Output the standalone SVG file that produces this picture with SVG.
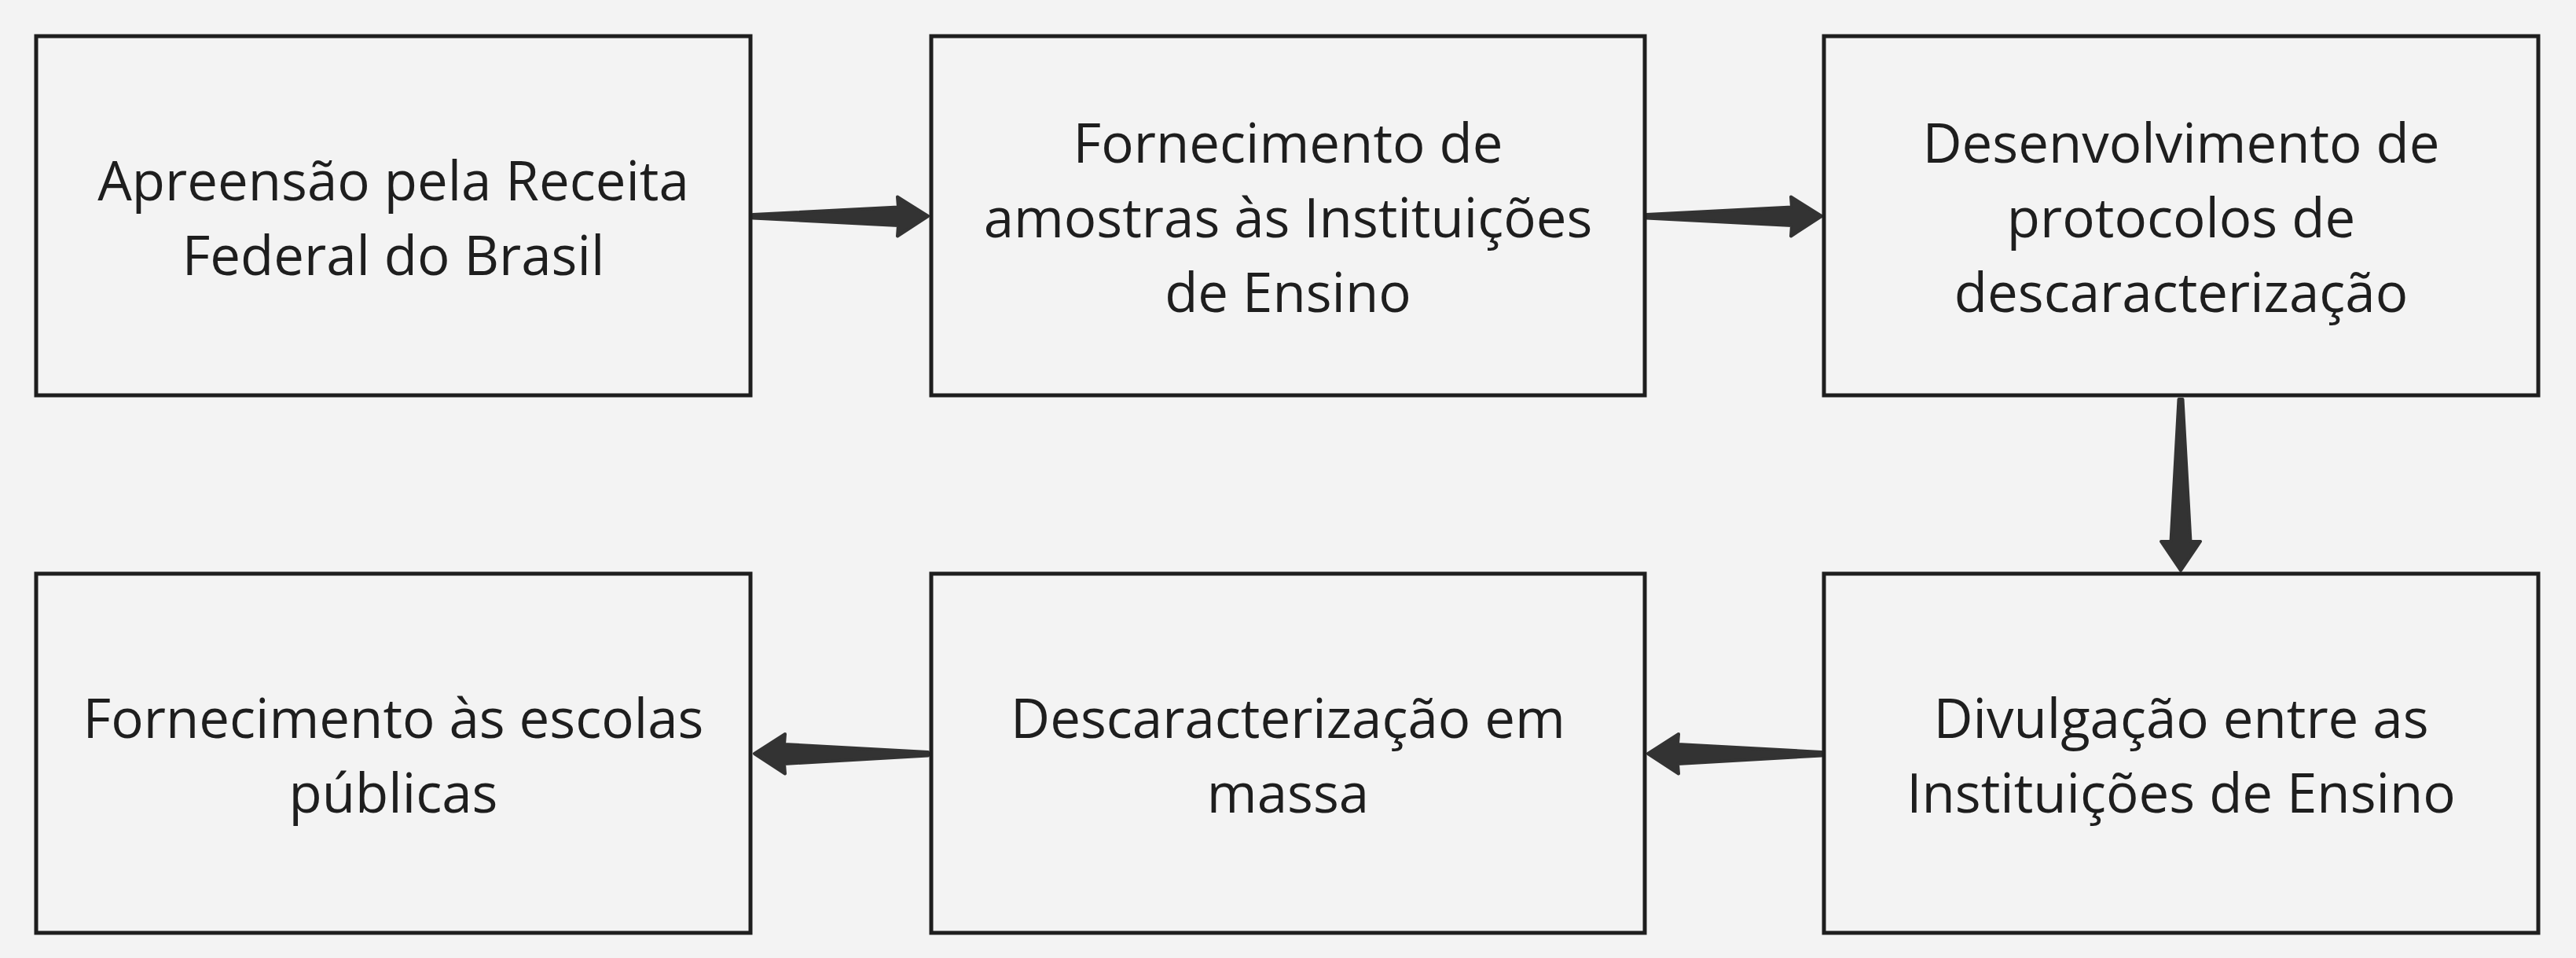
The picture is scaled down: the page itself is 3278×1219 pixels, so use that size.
<svg xmlns="http://www.w3.org/2000/svg" width="3278" height="1219" viewBox="0 0 3278 1219">
<style>
.box{fill:#f3f3f3;stroke:#1e1e1e;stroke-width:5}
.lbl{font-family:"Open Sans","Noto Sans",sans-serif;font-size:69px;fill:#1e1e1e;text-anchor:middle}
.arr{fill:#333333;stroke:#333333;stroke-width:4;stroke-linejoin:round}
</style>
<rect x="0" y="0" width="3278" height="1219" fill="#f3f3f3"/>
<g id="connectors">
<path class="arr" d="M958,273 L1143,263.5 L1142,250.5 L1181,275 L1142,300.5 L1143,287 L958,277.5 Z"/>
<path class="arr" d="M2095,273 L2280,263.5 L2279,250.5 L2318,275 L2279,300.5 L2280,287 L2095,277.5 Z"/>
<path class="arr" d="M2772.5,508 L2762.5,689 L2750,689 L2775,726 L2800,689 L2787.5,689 L2777.5,508 Z"/>
<path class="arr" d="M2318,957 L2135,947 L2136,934 L2097,959 L2136,984.5 L2135,972 L2318,961.5 Z"/>
<path class="arr" d="M1181,957 L998,947 L999,934 L960,959 L999,984.5 L998,972 L1181,961.5 Z"/>
</g>
<g id="node1">
<rect class="box" x="46" y="46" width="909" height="457"/>
<text class="lbl" x="500.5" y="254.5">Apreensão pela Receita</text>
<text class="lbl" x="500.5" y="349.5">Federal do Brasil</text>
</g>
<g id="node2">
<rect class="box" x="1185" y="46" width="908" height="457"/>
<text class="lbl" x="1639" y="207">Fornecimento de</text>
<text class="lbl" x="1639" y="302">amostras às Instituições</text>
<text class="lbl" x="1639" y="397">de Ensino</text>
</g>
<g id="node3">
<rect class="box" x="2321" y="46" width="909" height="457"/>
<text class="lbl" x="2775.5" y="207">Desenvolvimento de</text>
<text class="lbl" x="2775.5" y="302">protocolos de</text>
<text class="lbl" x="2775.5" y="397">descaracterização</text>
</g>
<g id="node4">
<rect class="box" x="2321" y="730" width="909" height="457"/>
<text class="lbl" x="2775.5" y="938.5">Divulgação entre as</text>
<text class="lbl" x="2775.5" y="1033.5">Instituições de Ensino</text>
</g>
<g id="node5">
<rect class="box" x="1185" y="730" width="908" height="457"/>
<text class="lbl" x="1639" y="938.5">Descaracterização em</text>
<text class="lbl" x="1639" y="1033.5">massa</text>
</g>
<g id="node6">
<rect class="box" x="46" y="730" width="909" height="457"/>
<text class="lbl" x="500.5" y="938.5">Fornecimento às escolas</text>
<text class="lbl" x="500.5" y="1033.5">públicas</text>
</g>
</svg>
